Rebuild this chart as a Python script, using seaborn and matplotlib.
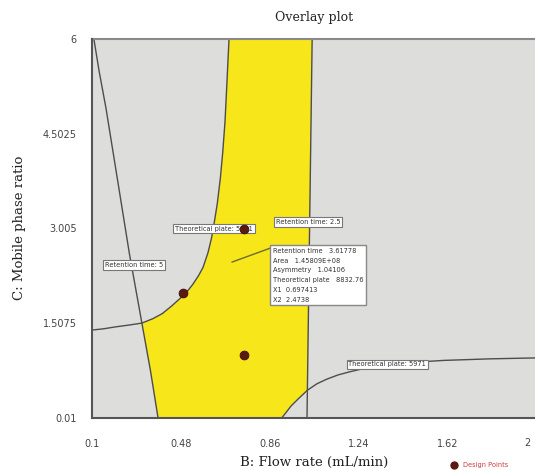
import numpy as np
import matplotlib
matplotlib.use('Agg')
import matplotlib.pyplot as plt
import matplotlib.transforms as mtransforms
import seaborn as sns
from matplotlib.lines import Line2D

# axis settings
x_ticks = [0.1, 0.48, 0.86, 1.24, 1.62, 2.0]
x_tick_labels = ['0.1', '0.48', '0.86', '1.24', '1.62', '2']
y_ticks = [0.01, 1.5075, 3.005, 4.5025, 6.0]
y_tick_labels = ['0.01', '1.5075', '3.005', '4.5025', '6']

# contour lines
rt_left_x = [0.108, 0.13, 0.16, 0.207, 0.26, 0.313, 0.35, 0.382]
rt_left_y = [6.0, 5.5, 4.9, 3.82, 2.6, 1.51, 0.75, 0.01]
rt_right_x = [1.04, 1.018]
rt_right_y = [6.0, 0.01]
tp_left_x = [0.1, 0.15, 0.2, 0.26, 0.313, 0.36, 0.40, 0.44, 0.47, 0.50, 0.53,
             0.555, 0.574, 0.595, 0.61, 0.622, 0.635, 0.648, 0.658, 0.668, 0.676, 0.685]
tp_left_y = [1.40, 1.42, 1.45, 1.48, 1.51, 1.58, 1.66, 1.78, 1.88, 1.98, 2.12,
             2.26, 2.39, 2.62, 2.85, 3.1, 3.4, 3.8, 4.2, 4.7, 5.3, 6.0]
tp_right_x = [0.91, 0.925, 0.95, 0.98, 1.02, 1.06, 1.1, 1.15, 1.2, 1.27, 1.35,
              1.45, 1.6, 1.8, 2.0]
tp_right_y = [0.01, 0.08, 0.2, 0.31, 0.45, 0.55, 0.62, 0.69, 0.74, 0.80, 0.85,
              0.885, 0.92, 0.945, 0.96]

# design points
design_x = [0.49, 0.75, 0.75]
design_y = [1.98, 1.0, 3.0]

# flag point
flag_x = 0.697413
flag_y = 2.4738
flag_lines = ['Retention time   3.61778', 'Area   1.45809E+08', 'Asymmetry   1.04106',
              'Theoretical plate   8832.76', 'X1  0.697413', 'X2  2.4738']

sns.set_theme(style="white")
plt.rcParams['font.family'] = ['DejaVu Sans']

fig = plt.figure(figsize=(5.35, 4.70), dpi=100)
ax = fig.add_axes([92 / 535, 1 - 418 / 470, 445 / 535, 379 / 470])

grey = '#dddddb'
yellow = '#f7e61a'
line_col = '#4d4d4d'

ax.set_facecolor(grey)

# yellow (sweet spot) region built from the boundary curves
rlx, rly = np.array(rt_left_x), np.array(rt_left_y)
tlx, tly = np.array(tp_left_x), np.array(tp_left_y)
trx, tr_y = np.array(tp_right_x), np.array(tp_right_y)
m1 = rly <= 1.51
m2 = tlx >= 0.313
m3 = trx <= 1.02
poly_x = np.concatenate([rlx[m1][::-1], tlx[m2], [rt_right_x[0]], trx[m3][::-1]])
poly_y = np.concatenate([rly[m1][::-1], tly[m2], [rt_right_y[0]], tr_y[m3][::-1]])
ax.fill(poly_x, poly_y, color=yellow, zorder=1, lw=0)

for xs, ys in [(rt_left_x, rt_left_y), (rt_right_x, rt_right_y),
               (tp_left_x, tp_left_y), (tp_right_x, tp_right_y)]:
    sns.lineplot(x=xs, y=ys, sort=False, estimator=None, color=line_col, lw=1, ax=ax, zorder=2)

box = dict(boxstyle='square,pad=0.25', fc='white', ec='#777777', lw=0.8)
lab_kw = dict(fontsize=4.8, color='#333333', ha='center', va='center', bbox=box, zorder=4)
ax.text(0.621, 3.0, 'Theoretical plate: 5971', **lab_kw)
ax.text(1.022, 3.11, 'Retention time: 2.5', **lab_kw)
ax.text(0.279, 2.43, 'Retention time: 5', **lab_kw)
ax.text(1.36, 0.86, 'Theoretical plate: 5971', **lab_kw)

sns.scatterplot(x=design_x, y=design_y, color='#5a1a12', edgecolor='#3a0c08',
                s=40, linewidth=0.6, ax=ax, zorder=5)

# flag
ax.plot([flag_x, 0.865], [flag_y, 2.70], color='#6b6b2a', lw=1, zorder=3)
ax.text(0.872, 2.70, '\n'.join(flag_lines), fontsize=4.8, color='#333333',
        ha='left', va='top', linespacing=1.75, zorder=6,
        bbox=dict(boxstyle='square,pad=0.4', fc='white', ec='#888888', lw=1))

ax.set_xlim(0.1, 2.0)
ax.set_ylim(0.01, 6.0)
ax.set_xticks(x_ticks)
# last x label sits on the cropped right edge, drawn separately so it stays inside
ax.set_xticklabels(x_tick_labels[:-1] + [''])
ax.set_yticks(y_ticks)
ax.set_yticklabels(y_tick_labels)
ax.tick_params(axis='both', direction='out', length=6, width=1, color='#555555',
               labelsize=7, labelcolor='#444444', pad=5)
ax.tick_params(axis='x', pad=9)
trans = mtransforms.blended_transform_factory(ax.transData, ax.transAxes)
trans = trans + mtransforms.ScaledTranslation(-5 / 72, 0, fig.dpi_scale_trans)
ax.text(x_ticks[-1], -0.065, x_tick_labels[-1], transform=trans, fontsize=7,
        color='#444444', ha='right', va='center', clip_on=False)
for side in ['left', 'bottom']:
    ax.spines[side].set_color('#555555')
    ax.spines[side].set_linewidth(1.5)
ax.spines['top'].set_color('#8a8a8a')
ax.spines['top'].set_linewidth(1.5)
ax.spines['right'].set_visible(False)
ax.spines['left'].set_zorder(7)
ax.spines['bottom'].set_zorder(7)

fig.text(314 / 535, 1 - 17 / 470, 'Overlay plot', family='DejaVu Serif',
         fontsize=9, ha='center', va='center', color='#222222')
fig.text(314 / 535, 1 - 462 / 470, 'B: Flow rate (mL/min)', family='DejaVu Serif',
         fontsize=9.5, ha='center', va='center', color='#222222')
fig.text(20 / 535, 1 - 228 / 470, 'C: Mobile phase ratio', family='DejaVu Serif',
         fontsize=9.5, ha='center', va='center', rotation=90, color='#222222')

handle = Line2D([], [], marker='o', ls='', color='#5a1a12', markersize=5)
fig.legend(handles=[handle], labels=['Design Points'], loc='center left',
           bbox_to_anchor=(444 / 535, 1 - 465 / 470), frameon=False, fontsize=4.8,
           labelcolor='#d03a3a', handletextpad=0.4, borderpad=0)

fig.savefig('out.png', dpi=100, facecolor='white')
